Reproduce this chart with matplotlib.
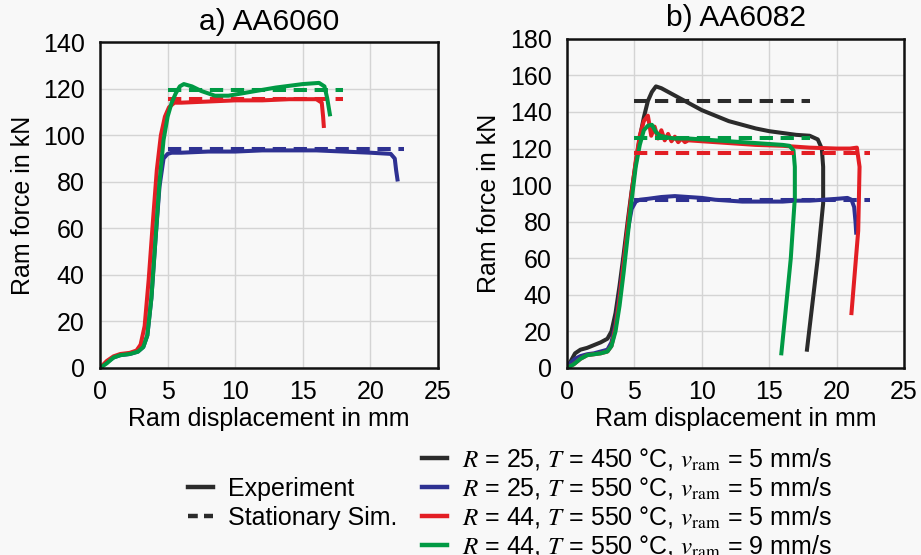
import numpy as np
import matplotlib
matplotlib.use("Agg")
import matplotlib.pyplot as plt
from matplotlib.lines import Line2D

plt.rcParams['font.family'] = ['Liberation Sans', 'DejaVu Sans']
plt.rcParams['mathtext.fontset'] = 'stix'
plt.rcParams['font.size'] = 18

# colours of the four process settings
c_black = '#2b2b2b'
c_blue = '#2e3192'
c_red = '#e31e24'
c_green = '#009a44'

# ---- a) AA6060 experiment curves (displacement in mm, force in kN) ----
a_blue_x = [0, 0.5, 1.0, 1.5, 2.2, 2.8, 3.2, 3.5, 3.8, 4.1, 4.4, 4.7, 5.0, 5.3, 6, 8, 10, 12, 14,
            16, 18, 20, 21.5, 21.8, 21.9, 22.0]
a_blue_y = [0, 2.5, 4.5, 5.5, 6, 7, 9, 14, 30, 55, 78, 90, 92, 92.5, 92.5, 93, 93, 93.5, 93.5,
            93.5, 93, 92.5, 92, 90, 85, 81]
a_red_x = [0, 0.5, 1.0, 1.5, 2.2, 2.7, 3.0, 3.3, 3.6, 3.9, 4.2, 4.5, 4.8, 5.1, 5.5, 6, 8, 10, 12,
           14, 16, 16.4, 16.5, 16.55]
a_red_y = [0, 3, 5, 6, 6.5, 7.5, 10, 18, 38, 62, 85, 100, 108, 112, 114, 114, 114.5, 115, 115,
           115.5, 115.5, 114, 108, 104]
a_green_x = [0, 0.5, 1.0, 1.5, 2.2, 2.8, 3.2, 3.5, 3.8, 4.1, 4.4, 4.7, 5.0, 5.3, 5.6, 5.9, 6.2,
             6.8, 7.5, 8.5, 9.5, 11, 13, 15, 16.2, 16.6, 16.8, 17.0]
a_green_y = [0, 2, 4.5, 5.5, 6, 7, 9, 14, 30, 55, 80, 98, 108, 114, 118, 121, 122, 121, 119, 117,
             117, 118.5, 120.5, 122, 122.5, 121, 116, 109]

# stationary simulation levels for a): (start, end, force)
a_sim_blue = (5, 22.5, 94)
a_sim_red = (5, 18, 115.5)
a_sim_green = (5, 18, 119.5)

# ---- b) AA6082 experiment curves ----
b_black_x = [0, 0.3, 0.6, 1.0, 1.5, 2.0, 2.5, 3.0, 3.3, 3.6, 3.9, 4.2, 4.5, 4.8, 5.1, 5.4, 5.7,
             6.0, 6.3, 6.6, 7.0, 8, 9, 10, 11, 12, 13, 14, 15, 16, 17, 18, 18.6, 18.9, 19.0,
             19.0, 18.6, 18.2, 17.8]
b_black_y = [0, 4, 8, 10, 11, 12.5, 14, 16, 20, 30, 45, 62, 80, 97, 112, 126, 137, 146, 151,
             154, 153, 149, 145, 141, 138, 135, 133, 131, 129.5, 128.5, 127.5, 127, 125, 120,
             110, 90, 60, 35, 10]
b_blue_x = [0, 0.3, 0.6, 1.0, 1.5, 2.0, 2.5, 3.0, 3.3, 3.6, 3.9, 4.2, 4.5, 4.8, 5.1, 5.4, 6, 7,
            8, 9, 10, 11, 12, 13, 14, 15, 16, 17, 18, 19, 20, 20.8, 21.1, 21.3, 21.4, 21.45]
b_blue_y = [0, 3, 5, 6.5, 7.5, 8, 9, 10, 14, 24, 40, 58, 75, 87, 91, 92, 92.5, 93.5, 94, 93.5,
            93, 92, 91.5, 91, 91, 91, 91, 91.5, 91.5, 92, 92.5, 93, 92, 88, 80, 74]
b_red_x = [0, 0.5, 1.0, 1.5, 2.0, 2.5, 3.0, 3.3, 3.6, 3.9, 4.2, 4.5, 4.8, 5.1, 5.4, 5.7, 6.0,
           6.25, 6.5, 6.75, 7.0, 7.25, 7.5, 7.75, 8.0, 8.25, 8.5, 8.75, 9.0, 10, 12, 14, 16, 18,
           20, 21.0, 21.5, 21.7, 21.6, 21.1]
b_red_y = [0, 2, 5, 7, 7.5, 8, 9, 12, 22, 38, 57, 77, 96, 113, 127, 135, 138, 127, 132, 125.5,
           130, 124.5, 128, 124, 126.5, 123.5, 125.5, 123.5, 124.5, 124, 123, 122, 121.5, 120.5,
           120, 120, 120.5, 110, 75, 30]
b_green_x = [0, 0.5, 1.0, 1.5, 2.0, 2.5, 3.0, 3.3, 3.6, 3.9, 4.2, 4.5, 4.8, 5.1, 5.4, 5.7, 6.0,
             6.3, 6.6, 6.9, 7.2, 7.5, 8, 9, 10, 11, 12, 13, 14, 15, 16, 16.5, 16.8, 16.9, 16.9,
             16.6, 16.2, 15.9]
b_green_y = [0, 2, 5, 7, 7.5, 8, 9, 12, 20, 34, 52, 72, 92, 110, 122, 130, 132.5, 133, 129,
             127, 126.5, 126, 125.5, 125.5, 125, 124.5, 124, 123.5, 123, 122.5, 122, 121.5, 119,
             110, 93, 60, 30, 8]

b_sim_black = (5, 18, 146)
b_sim_blue = (5, 22.5, 92)
b_sim_red = (5, 22.5, 117.5)
b_sim_green = (5, 18, 126)

legend_labels = [
    r'$R$ = 25, $T$ = 450 °C, $v_{\mathrm{ram}}$ = 5 mm/s',
    r'$R$ = 25, $T$ = 550 °C, $v_{\mathrm{ram}}$ = 5 mm/s',
    r'$R$ = 44, $T$ = 550 °C, $v_{\mathrm{ram}}$ = 5 mm/s',
    r'$R$ = 44, $T$ = 550 °C, $v_{\mathrm{ram}}$ = 9 mm/s',
]

lw = 2.9
dash = (3.3, 1.9)
bg = '#f8f8f8'

fig = plt.figure(figsize=(9.21, 5.55), dpi=100, facecolor=bg)
ax1 = fig.add_axes([0.1086, 0.337, 0.367, 0.587])
ax2 = fig.add_axes([0.6156, 0.337, 0.366, 0.593])


def sim(ax, seg, color):
    ax.plot([seg[0], seg[1]], [seg[2], seg[2]], color=color, lw=lw, ls=(0, dash))


for ax in (ax1, ax2):
    ax.set_facecolor(bg)
    ax.set_xlim(0, 25)
    ax.set_xticks(range(0, 26, 5))
    ax.grid(True, color='#d4d4d4', lw=1.0)
    ax.set_axisbelow(True)
    ax.tick_params(axis='x', length=0, pad=9)
    ax.tick_params(axis='y', length=0, pad=11)
    for s in ax.spines.values():
        s.set_linewidth(1.8)
        s.set_color('#111111')
    ax.set_xlabel('Ram displacement in mm', labelpad=2)
    ax.set_ylabel('Ram force in kN', labelpad=6)

# a)
sim(ax1, a_sim_blue, c_blue)
sim(ax1, a_sim_red, c_red)
sim(ax1, a_sim_green, c_green)
ax1.plot(a_blue_x, a_blue_y, color=c_blue, lw=lw)
ax1.plot(a_red_x, a_red_y, color=c_red, lw=lw)
ax1.plot(a_green_x, a_green_y, color=c_green, lw=lw)
ax1.set_ylim(0, 140)
ax1.set_yticks(range(0, 141, 20))
ax1.set_title('a) AA6060', pad=9)

# b)
ax2.plot(b_black_x, b_black_y, color=c_black, lw=lw)
ax2.plot(b_blue_x, b_blue_y, color=c_blue, lw=lw)
ax2.plot(b_red_x, b_red_y, color=c_red, lw=lw)
ax2.plot(b_green_x, b_green_y, color=c_green, lw=lw)
sim(ax2, b_sim_black, c_black)
sim(ax2, b_sim_blue, c_blue)
sim(ax2, b_sim_red, c_red)
sim(ax2, b_sim_green, c_green)
ax2.set_ylim(0, 180)
ax2.set_yticks(range(0, 181, 20))
ax2.set_title('b) AA6082', pad=9)

# legends
h_type = [Line2D([], [], color=c_black, lw=3.2),
          Line2D([], [], color=c_black, lw=3.2, ls=(0, (2.2, 1.4)))]
fig.legend(h_type, ['Experiment', 'Stationary Sim.'], loc='upper left',
           bbox_to_anchor=(0.204, 0.141), frameon=False, handlelength=1.0,
           handletextpad=0.6, labelspacing=0.22, borderpad=0, borderaxespad=0)
h_set = [Line2D([], [], color=c, lw=3.2) for c in (c_black, c_blue, c_red, c_green)]
fig.legend(h_set, legend_labels, loc='upper left', bbox_to_anchor=(0.458, 0.196),
           frameon=False, handlelength=1.0, handletextpad=0.6, labelspacing=0.12,
           borderpad=0, borderaxespad=0)

fig.savefig('out.png', dpi=100, facecolor=bg)
